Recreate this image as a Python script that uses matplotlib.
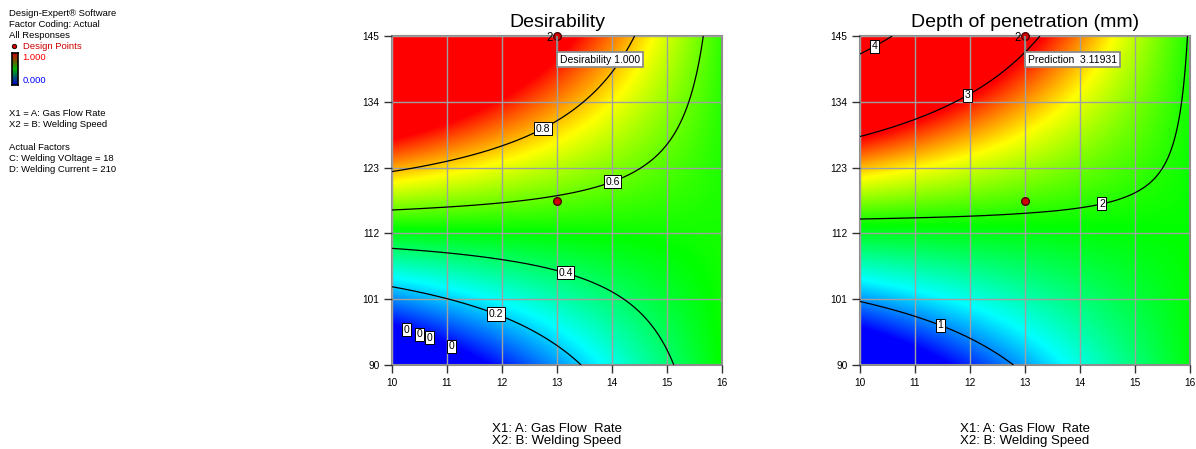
import numpy as np
import matplotlib
matplotlib.use("Agg")
import matplotlib.pyplot as plt
import matplotlib.tri as mtri
from matplotlib.colors import LinearSegmentedColormap

plt.rcParams['font.family'] = ['Liberation Sans', 'DejaVu Sans']

# ---------------- data ----------------
gas_flow = [10, 11, 12, 13, 14, 15, 16]            # X1: A: Gas Flow Rate
weld_speed = [90, 101, 112, 123, 134, 145]         # X2: B: Welding Speed
# predicted depth of penetration (mm) at the grid nodes (rows = welding speed)
depth_grid = [
    [0.230, 0.506, 0.782, 1.058, 1.334, 1.610, 1.886],
    [1.028, 1.174, 1.320, 1.467, 1.613, 1.759, 1.905],
    [1.826, 1.842, 1.859, 1.875, 1.892, 1.908, 1.925],
    [2.623, 2.510, 2.397, 2.284, 2.170, 2.057, 1.944],
    [3.421, 3.178, 2.935, 2.692, 2.449, 2.206, 1.963],
    [4.218, 3.846, 3.473, 3.101, 2.728, 2.355, 1.983],
]
desir_limits = [0.714, 3.04]        # depth giving desirability 0 and 1
# response values at which the colours blue, cyan, green, yellow, red sit
depth_color_stops = [0.68, 1.26, 1.92, 2.5, 2.98]
desir_color_stops = [0.0, 0.245, 0.5, 0.745, 0.97]

desir_levels = [0.2, 0.4, 0.6, 0.8]
desir_label_pos = [(11.93, 99.6), (13.2, 106.9), (13.96, 121.9), (12.69, 130.4)]
zero_label_pos = [(10.27, 96.2), (10.51, 95.6), (10.72, 95.0), (11.10, 93.4)]
depth_levels = [1, 2, 3, 4]
depth_label_pos = [(11.52, 98.0), (14.36, 118.6), (11.91, 135.9), (10.22, 143.9)]

design_A = [13, 13]
design_B = [117.5, 145]
design_count_label = "2"
opt_A, opt_B = 13, 145
desirability_value = 1.000
prediction_value = 3.11931

x_ticks = [10, 11, 12, 13, 14, 15, 16]
y_ticks = [90, 101, 112, 123, 134, 145]

side_lines = [
    ("Design-Expert\u00ae Software", 14.0, 'black'),
    ("Factor Coding: Actual", 24.5, 'black'),
    ("All Responses", 35.3, 'black'),
    ("X1 = A: Gas Flow Rate", 113.7, 'black'),
    ("X2 = B: Welding Speed", 124.7, 'black'),
    ("Actual Factors", 147.3, 'black'),
    ("C: Welding VOltage = 18", 158.7, 'black'),
    ("D: Welding Current = 210", 169.7, 'black'),
]

# ---------------- figure ----------------
W, H = 1196, 449
fig = plt.figure(figsize=(W / 100, H / 100), dpi=100)

base_colors = [(0, 0, 1), (0, 1, 1), (0, 1, 0), (1, 1, 0), (1, 0, 0)]


def make_cmap(stops):
    lo, hi = stops[0], stops[-1]
    pos = [(s - lo) / (hi - lo) for s in stops]
    return LinearSegmentedColormap.from_list("dx", list(zip(pos, base_colors))), lo, hi


# interpolate the read grid smoothly with matplotlib's cubic tri-interpolator
GA, GB = np.meshgrid(gas_flow, weld_speed)
tri = mtri.Triangulation(GA.ravel(), GB.ravel())
interp = mtri.CubicTriInterpolator(tri, np.array(depth_grid).ravel(), kind='min_E')
xi = np.linspace(gas_flow[0], gas_flow[-1], 301)
yi = np.linspace(weld_speed[0], weld_speed[-1], 301)
XI, YI = np.meshgrid(xi, yi)
depth = np.asarray(interp(XI, YI))
desir = np.clip((depth - desir_limits[0]) / (desir_limits[1] - desir_limits[0]), 0, 1)


def px_axes(x0, y0, x1, y1):
    return [x0 / W, 1 - y1 / H, (x1 - x0) / W, (y1 - y0) / H]


def style_axes(ax, title):
    ax.set_xlim(gas_flow[0], gas_flow[-1])
    ax.set_ylim(weld_speed[0], weld_speed[-1])
    ax.set_xticks(x_ticks)
    ax.set_yticks(y_ticks)
    ax.grid(True, color='#a0a0a0', lw=1.0)
    ax.set_axisbelow(False)
    for s in ax.spines.values():
        s.set_color('#8c8c8c')
        s.set_linewidth(1.5)
    ax.tick_params(direction='out', length=6, width=1, color='#333333',
                   labelsize=7.3, pad=3)
    ax.set_title(title, fontsize=14, pad=6.5)
    ax.set_xlabel("X1: A: Gas Flow  Rate\nX2: B: Welding Speed",
                  fontsize=9.5, linespacing=1.0, labelpad=25.5)


def boxed(texts, fs=7.5):
    for t in texts:
        t.set_rotation(0)
        t.set_fontsize(fs)
        t.set_color('black')
        t.set_bbox(dict(boxstyle='square,pad=0.15', fc='white', ec='black', lw=0.7))
        t.set_zorder(6)


def draw_panel(ax, Z, stops, levels, label_pos, title, flag_text):
    cmap, lo, hi = make_cmap(stops)
    ax.imshow(Z, extent=[gas_flow[0], gas_flow[-1], weld_speed[0], weld_speed[-1]],
              origin='lower', aspect='auto', cmap=cmap,
              vmin=lo, vmax=hi, interpolation='bilinear', zorder=0)
    cs = ax.contour(XI, YI, Z, levels=levels, colors='black', linewidths=0.9, zorder=3)
    labs = ax.clabel(cs, fmt=lambda v: f"{v:g}", manual=label_pos, inline=False)
    boxed(labs)
    style_axes(ax, title)
    ax.plot(design_A, design_B, 'o', ms=5.5, mfc='#d00000', mec='#500000',
            mew=1.0, clip_on=False, zorder=7)
    ax.annotate(design_count_label, (opt_A, opt_B), xytext=(-3, -1.2),
                textcoords='offset points', ha='right', va='center',
                fontsize=8.3, zorder=8, annotation_clip=False)
    # flag for the optimum
    ax.annotate(flag_text, xy=(opt_A, opt_B), xytext=(2, -17),
                textcoords='offset points', ha='left', va='center', fontsize=7.5,
                bbox=dict(boxstyle='square,pad=0.25', fc='white', ec='#8c8c8c', lw=1.3),
                zorder=8)
    ax.plot([opt_A, opt_A], [opt_B, opt_B - 4.2], color='#8c8c8c', lw=1.3, zorder=7)


ax1 = fig.add_axes(px_axes(392, 36, 722, 365))
draw_panel(ax1, desir, desir_color_stops, desir_levels, desir_label_pos,
           "Desirability", f"Desirability {desirability_value:.3f}")
zc = ax1.contour(XI, YI, desir, levels=[0.0005], colors='none', linewidths=0)
zl = ax1.clabel(zc, fmt=lambda v: "0", manual=zero_label_pos, inline=False,
                colors='black')
boxed(zl)

ax2 = fig.add_axes(px_axes(860, 36, 1190, 365))
draw_panel(ax2, depth, depth_color_stops, depth_levels, depth_label_pos,
           "Depth of penetration (mm)", f"Prediction  {prediction_value:.5f}")

# ---------------- side legend ----------------
for txt, ypx, col in side_lines:
    fig.text(9.3 / W, 1 - ypx / H, txt, fontsize=6.8, color=col, va='center', ha='left')
fig.text(22.7 / W, 1 - 46.7 / H, "Design Points", fontsize=6.8, color='#cc0000',
         va='center', ha='left')
fig.lines.append(plt.Line2D([13.5 / W], [1 - 46.3 / H], marker='o', ms=3.2,
                            mfc='#cc0000', mec='black', mew=0.6,
                            transform=fig.transFigure))
fig.text(22.7 / W, 1 - 58 / H, "1.000", fontsize=6.8, color='#ff0000',
         va='center', ha='left')
fig.text(22.7 / W, 1 - 80.7 / H, "0.000", fontsize=6.8, color='#0000ff',
         va='center', ha='left')
legend_cmap = LinearSegmentedColormap.from_list(
    "leg", [(0, 0, 0.85), (0, 0.7, 0), (0.85, 0, 0)])
cax = fig.add_axes(px_axes(11.5, 53.3, 17.5, 85.3))
cax.imshow(np.linspace(1, 0, 100)[:, None], aspect='auto', cmap=legend_cmap,
           extent=[0, 1, 0, 1])
cax.set_xticks([])
cax.set_yticks([])
for s in cax.spines.values():
    s.set_linewidth(1.2)
    s.set_color('black')

fig.savefig("out.png", dpi=100)
